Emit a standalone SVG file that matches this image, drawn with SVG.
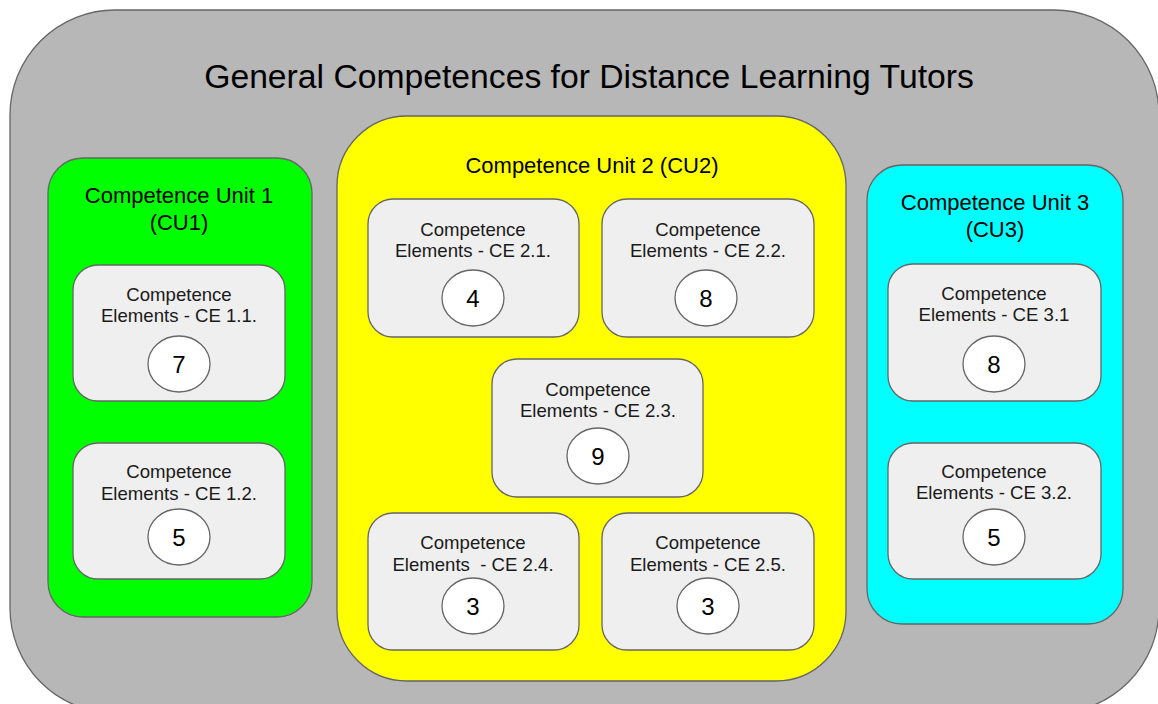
<svg xmlns="http://www.w3.org/2000/svg" width="1158" height="704" viewBox="0 0 1158 704">
<style>
text{font-family:"Liberation Sans",Arial,sans-serif;text-anchor:middle;fill:#000;white-space:pre}
.outer{fill:#b7b7b7;stroke:#666;stroke-width:1.3}
.unit{stroke:#666;stroke-width:1.3}
.ce{fill:#efefef;stroke:#666;stroke-width:1.3}
.num{fill:#fff;stroke:#666;stroke-width:1.3}
.title{font-size:33.7px}
.ut{font-size:22px}
.ct{font-size:18.6px;fill:#1a1a1a}
.nt{font-size:24px}
</style>
<rect width="1158" height="704" fill="#fff"/>
<g id="outer">
<rect class="outer" x="10" y="10" width="1149" height="703" rx="105" ry="105"/>
<text class="title" x="589" y="88">General Competences for Distance Learning Tutors</text>
</g>
<g id="connectors"></g>
<g id="cu1">
<rect class="unit" x="48" y="158" width="264" height="459" rx="35" fill="#00ff00"/>
<text class="ut" x="179" y="203">Competence Unit 1</text>
<text class="ut" x="179" y="230">(CU1)</text>
</g>
<g id="ce11">
<rect class="ce" x="73" y="265" width="212" height="136" rx="25"/>
<text class="ct" x="179" y="301">Competence</text>
<text class="ct" x="179" y="322">Elements - CE 1.1.</text>
<ellipse class="num" cx="179" cy="364" rx="31" ry="28"/>
<text class="nt" x="179" y="373">7</text>
</g>
<g id="ce12">
<rect class="ce" x="73" y="443" width="212" height="136" rx="25"/>
<text class="ct" x="179" y="478">Competence</text>
<text class="ct" x="179" y="500">Elements - CE 1.2.</text>
<ellipse class="num" cx="179" cy="537" rx="31" ry="28"/>
<text class="nt" x="179" y="546">5</text>
</g>
<g id="cu2">
<rect class="unit" x="337" y="116" width="509" height="565" rx="70" fill="#ffff00"/>
<text class="ut" x="592" y="173">Competence Unit 2 (CU2)</text>
</g>
<g id="ce21">
<rect class="ce" x="368" y="199" width="211" height="138" rx="25"/>
<text class="ct" x="473" y="236">Competence</text>
<text class="ct" x="473" y="257">Elements - CE 2.1.</text>
<ellipse class="num" cx="473" cy="298" rx="31" ry="28"/>
<text class="nt" x="473" y="307">4</text>
</g>
<g id="ce22">
<rect class="ce" x="602" y="199" width="212" height="138" rx="25"/>
<text class="ct" x="708" y="236">Competence</text>
<text class="ct" x="708" y="257">Elements - CE 2.2.</text>
<ellipse class="num" cx="706" cy="298" rx="31" ry="28"/>
<text class="nt" x="706" y="307">8</text>
</g>
<g id="ce23">
<rect class="ce" x="492" y="359" width="211" height="138" rx="25"/>
<text class="ct" x="598" y="396">Competence</text>
<text class="ct" x="598" y="417">Elements - CE 2.3.</text>
<ellipse class="num" cx="598" cy="456" rx="31" ry="28"/>
<text class="nt" x="598" y="465">9</text>
</g>
<g id="ce24">
<rect class="ce" x="368" y="513" width="211" height="137" rx="25"/>
<text class="ct" x="473" y="549">Competence</text>
<text class="ct" x="473" y="571">Elements  - CE 2.4.</text>
<ellipse class="num" cx="473" cy="606" rx="31" ry="28"/>
<text class="nt" x="473" y="615">3</text>
</g>
<g id="ce25">
<rect class="ce" x="602" y="513" width="212" height="137" rx="25"/>
<text class="ct" x="708" y="549">Competence</text>
<text class="ct" x="708" y="571">Elements - CE 2.5.</text>
<ellipse class="num" cx="708" cy="606" rx="31" ry="28"/>
<text class="nt" x="708" y="615">3</text>
</g>
<g id="cu3">
<rect class="unit" x="867" y="165" width="256" height="459" rx="35" fill="#00ffff"/>
<text class="ut" x="995" y="210">Competence Unit 3</text>
<text class="ut" x="995" y="237">(CU3)</text>
</g>
<g id="ce31">
<rect class="ce" x="888" y="264" width="213" height="137" rx="25"/>
<text class="ct" x="994" y="300">Competence</text>
<text class="ct" x="994" y="321">Elements - CE 3.1</text>
<ellipse class="num" cx="994" cy="364" rx="31" ry="28"/>
<text class="nt" x="994" y="373">8</text>
</g>
<g id="ce32">
<rect class="ce" x="888" y="443" width="213" height="136" rx="25"/>
<text class="ct" x="994" y="478">Competence</text>
<text class="ct" x="994" y="499">Elements - CE 3.2.</text>
<ellipse class="num" cx="994" cy="537" rx="31" ry="28"/>
<text class="nt" x="994" y="546">5</text>
</g>
</svg>
